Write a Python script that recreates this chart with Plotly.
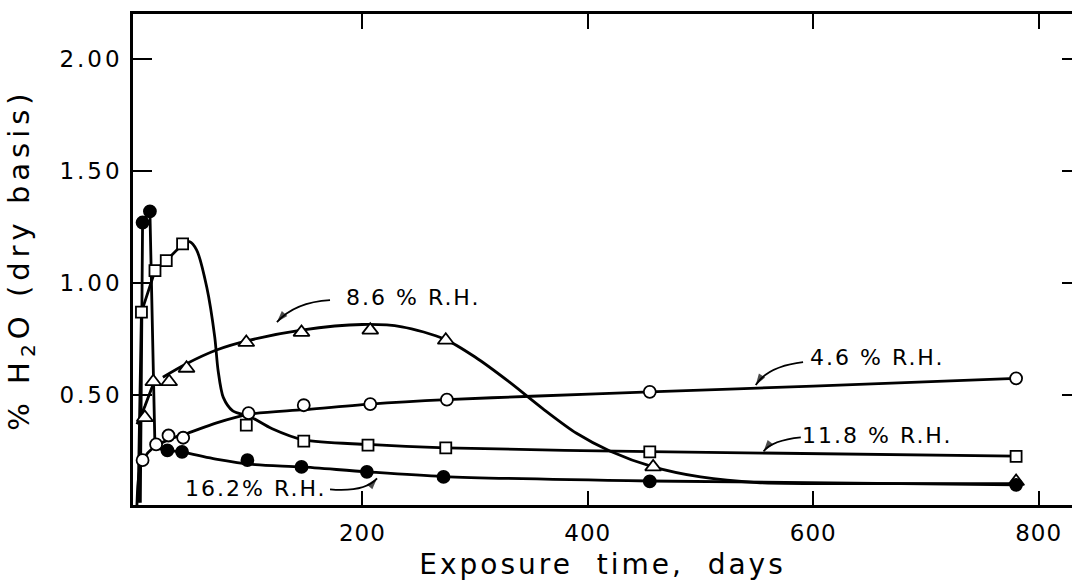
import plotly.graph_objects as go

# ---------------- data ----------------
# 4.6 % R.H. (open circles)
rh46_days = [5, 17, 28, 41, 99, 148, 207, 275, 455, 780]
rh46_vals = [0.21, 0.28, 0.32, 0.31, 0.42, 0.455, 0.46, 0.48, 0.515, 0.575]
rh46_curve_days = [0, 1, 3, 5.6, 10, 17.5, 30, 45, 70, 100, 148, 207, 275, 350, 455, 600, 780]
rh46_curve_vals = [0.01, 0.11, 0.18, 0.21, 0.245, 0.275, 0.305, 0.33, 0.375, 0.415, 0.435, 0.46, 0.48, 0.495, 0.515, 0.54, 0.575]

# 8.6 % R.H. (open triangles)
rh86_days = [7, 14.5, 28.6, 44, 97, 146, 207, 274, 458, 780]
rh86_vals = [0.40, 0.56, 0.56, 0.62, 0.735, 0.78, 0.79, 0.745, 0.18, 0.115]
rh86_rise_days = [0, 7, 16]
rh86_rise_vals = [0.37, 0.45, 0.57]
rh86_curve_days = [23, 44, 70, 100, 146, 200, 235, 273, 300, 330, 360, 390, 420, 458, 500, 550, 650, 780]
rh86_curve_vals = [0.58, 0.64, 0.70, 0.745, 0.79, 0.815, 0.805, 0.75, 0.67, 0.56, 0.44, 0.33, 0.25, 0.18, 0.135, 0.11, 0.105, 0.105]

# 11.8 % R.H. (open squares)
rh118_days = [4, 16, 26, 40.5, 97, 148, 205, 274, 455, 780]
rh118_vals = [0.87, 1.055, 1.10, 1.175, 0.366, 0.295, 0.277, 0.265, 0.247, 0.227]
rh118_rise_days = [1, 4, 16]
rh118_rise_vals = [0.02, 0.87, 1.055]
rh118_curve_days = [16, 26, 40.5, 47, 53, 62, 69, 72, 76.6, 85, 100, 120, 148, 205, 274, 455, 780]
rh118_curve_vals = [1.055, 1.10, 1.17, 1.184, 1.147, 0.98, 0.76, 0.61, 0.49, 0.43, 0.405, 0.35, 0.30, 0.28, 0.265, 0.248, 0.228]

# 16.2 % R.H. (filled circles)
rh162_days = [5, 11.5, 27, 40, 98, 146, 204, 272, 455, 780]
rh162_vals = [1.27, 1.32, 0.254, 0.247, 0.21, 0.18, 0.158, 0.135, 0.115, 0.10]
rh162_rise_days = [3, 5, 11.5, 16, 27, 40]
rh162_rise_vals = [0.02, 1.27, 1.32, 0.265, 0.254, 0.247]
rh162_curve_days = [40, 70, 105, 146, 204, 272, 455, 780]
rh162_curve_vals = [0.247, 0.215, 0.19, 0.18, 0.158, 0.137, 0.117, 0.10]

x_tick_vals = [200, 400, 600, 800]
x_tick_text = ["200", "400", "600", "800"]
y_tick_vals = [0.5, 1.0, 1.5, 2.0]
y_tick_text = ["0.50", "1.00", "1.50", "2.00"]

labels = ["8.6 % R.H.", "4.6 % R.H.", "11.8 % R.H.", "16.2% R.H."]
label_pos = [(245, 0.935), (657, 0.67), (657, 0.32), (106, 0.085)]
# curved leader arrows: tail, bend (control point), head — in data units
arrow_tail = [(171.3, 0.924), (591, 0.647), (589, 0.312), (171.3, 0.080)]
arrow_bend = [(140.2, 0.915), (560, 0.629), (563.5, 0.299), (202.3, 0.067)]
arrow_head = [(124.2, 0.826), (549, 0.545), (556, 0.250), (213, 0.129)]

X_RANGE = [-3.5, 829.6]
Y_RANGE = [0.01, 2.2]

FONT = "DejaVu Sans"
LW = 2.8


def spaced(txt, px):
    return '<span style="letter-spacing:%dpx">%s</span>' % (px, txt)


fig = go.Figure()


def line(x, y, shape="spline"):
    fig.add_trace(go.Scatter(x=x, y=y, mode="lines",
                             line=dict(color="black", width=LW, shape=shape, smoothing=0.8),
                             showlegend=False, hoverinfo="skip"))


line(rh46_curve_days, rh46_curve_vals)
line(rh86_rise_days, rh86_rise_vals, "linear")
line(rh86_curve_days, rh86_curve_vals)
line(rh118_rise_days, rh118_rise_vals, "linear")
line(rh118_curve_days, rh118_curve_vals)
line(rh162_rise_days, rh162_rise_vals, "linear")
line(rh162_curve_days, rh162_curve_vals)


def markers(x, y, symbol, size, fill):
    fig.add_trace(go.Scatter(x=x, y=y, mode="markers",
                             marker=dict(symbol=symbol, size=size, color=fill,
                                         line=dict(color="black", width=1.8)),
                             showlegend=False))


markers(rh46_days, rh46_vals, "circle", 12, "white")
markers(rh86_days, rh86_vals, "triangle-up", 14, "white")
markers(rh118_days, rh118_vals, "square", 11, "white")
markers(rh162_days, rh162_vals, "circle", 12, "black")

# empty trace so the mirrored tick axes are drawn
fig.add_trace(go.Scatter(x=[], y=[], xaxis="x2", yaxis="y2", showlegend=False))

for txt, (lx, ly) in zip(labels, label_pos):
    fig.add_annotation(x=lx, y=ly, text=spaced(txt, 2), showarrow=False,
                       font=dict(family=FONT, size=22, color="black"))

for (tx, ty), (cx, cy), (hx, hy) in zip(arrow_tail, arrow_bend, arrow_head):
    fig.add_shape(type="path", xref="x", yref="y",
                  path="M %g,%g Q %g,%g %g,%g" % (tx, ty, cx, cy, hx, hy),
                  line=dict(color="black", width=1.8))
    fig.add_trace(go.Scatter(x=[cx, hx], y=[cy, hy], mode="markers",
                             marker=dict(symbol="arrow", size=[0, 12], color="black",
                                         angleref="previous", line=dict(width=0)),
                             showlegend=False, hoverinfo="skip"))

axis_font = dict(family=FONT, size=23, color="black")
fig.update_layout(
    width=1073, height=586,
    margin=dict(l=133, r=1, t=14, b=81),
    paper_bgcolor="white", plot_bgcolor="white",
    xaxis=dict(range=X_RANGE, showgrid=False, zeroline=False,
               showline=True, linecolor="black", linewidth=2.5, mirror=True,
               ticks="inside", ticklen=14, tickwidth=2, tickcolor="black",
               tickvals=x_tick_vals, ticktext=[spaced(t, 1) for t in x_tick_text],
               tickfont=axis_font, ticklabelstandoff=6,
               title=dict(text=spaced("Exposure  time,  days", 3),
                          font=dict(family=FONT, size=28, color="black"), standoff=10)),
    yaxis=dict(range=Y_RANGE, showgrid=False, zeroline=False,
               showline=True, linecolor="black", linewidth=2.5,
               ticks="inside", ticklen=19, tickwidth=2, tickcolor="black",
               tickvals=y_tick_vals, ticktext=[spaced(t, 3) for t in y_tick_text],
               tickfont=axis_font, ticklabelstandoff=3,
               title=dict(text=spaced("% H<sub>2</sub>O (dry basis)", 5),
                          font=dict(family=FONT, size=29, color="black"), standoff=22)),
    xaxis2=dict(range=X_RANGE, overlaying="x", side="top", showgrid=False,
                zeroline=False, showline=False, ticks="inside", ticklen=15,
                tickwidth=2, tickcolor="black", tickvals=x_tick_vals,
                showticklabels=False),
    yaxis2=dict(range=Y_RANGE, overlaying="y", side="right", showgrid=False,
                zeroline=False, showline=False, ticks="inside", ticklen=10,
                tickwidth=2, tickcolor="black", tickvals=y_tick_vals,
                showticklabels=False),
)

fig.write_html("out.html")
